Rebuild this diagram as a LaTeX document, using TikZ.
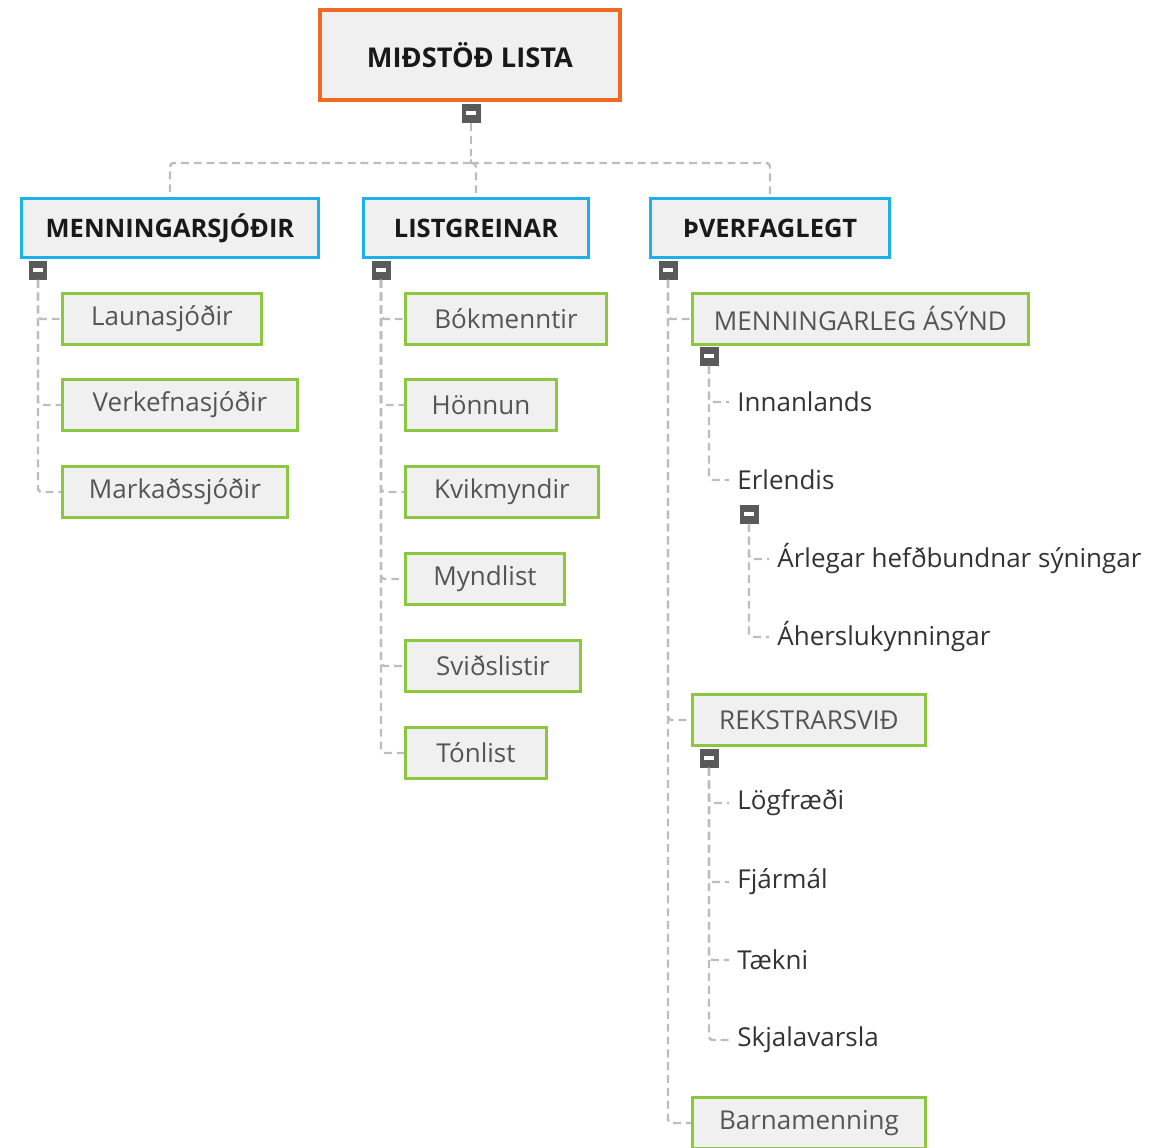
\documentclass[tikz,border=0pt]{standalone}
\usepackage{fontspec}
\setmainfont{Open Sans}
\usepackage{tikz}

\definecolor{rootline}{HTML}{F26A21}
\definecolor{topline}{HTML}{1CB0EC}
\definecolor{subline}{HTML}{8DC63F}
\definecolor{boxfill}{HTML}{F0F0F0}
\definecolor{btnfill}{HTML}{5A5A5A}
\definecolor{linkgray}{HTML}{BDBDBD}
\definecolor{subtext}{HTML}{555555}
\definecolor{leaftext}{HTML}{333333}

\begin{document}
\begin{tikzpicture}[x=0.02cm,y=-0.02cm]
      \tikzstyle{root}=[draw=rootline,line width=2.3pt,fill=boxfill,minimum width=6.0cm,minimum height=1.8cm,font=\fontsize{15.5}{18}\selectfont\bfseries,text=black!90];
      \tikzstyle{top}=[draw=topline,line width=1.7pt,fill=boxfill,minimum height=1.18cm,font=\fontsize{14.5}{17}\selectfont\bfseries,text=black!90];
      \tikzstyle{sub}=[draw=subline,line width=1.7pt,fill=boxfill,minimum height=1.02cm,anchor=west,font=\fontsize{14.8}{18}\selectfont,text=subtext];
      \tikzstyle{leaf}=[anchor=west,inner xsep=0.16cm,font=\fontsize{14.8}{18}\selectfont,text=leaftext];
      \tikzstyle{btn}=[fill=btnfill,minimum size=0.38cm,inner sep=0pt];
      \tikzstyle{link}=[draw=linkgray,line width=1.4pt,dash pattern=on 4.5pt off 2.8pt,rounded corners=2pt];
      \tikzstyle{vh}=[link,to path={|- (\tikztotarget)}];
      \tikzstyle{hv}=[link,to path={-| (\tikztotarget)}];

      \useasboundingbox (0,0) rectangle (1174,1147);

      % root
      \node[root](R) at (470,55) {MIÐSTÖÐ LISTA};
      \node[btn](b0) at (471,113) {\color{white}\rule{0.2cm}{0.07cm}};
      \coordinate (hub) at (471,163);

      % first level
      \node[top,minimum width=5.95cm](M) at (170,228) {MENNINGARSJÓÐIR};
      \node[top,minimum width=4.5cm](L) at (476,228) {LISTGREINAR};
      \node[top,minimum width=4.78cm](T) at (770,228) {ÞVERFAGLEGT};
      \node[btn](bM) at (38,270) {\color{white}\rule{0.2cm}{0.07cm}};
      \node[btn](bL) at (381,270) {\color{white}\rule{0.2cm}{0.07cm}};
      \node[btn](bT) at (668,270) {\color{white}\rule{0.2cm}{0.07cm}};

      % sjodir
      \node[sub,minimum width=3.98cm](M1) at (61,319) {Launasjóðir};
      \node[sub,minimum width=4.7cm](M2) at (61,405) {Verkefnasjóðir};
      \node[sub,minimum width=4.5cm](M3) at (61,492) {Markaðssjóðir};

      % listgreinar
      \node[sub,minimum width=4.02cm](L1) at (404,319) {Bókmenntir};
      \node[sub,minimum width=3.02cm](L2) at (404,405) {Hönnun};
      \node[sub,minimum width=3.86cm](L3) at (404,492) {Kvikmyndir};
      \node[sub,minimum width=3.18cm](L4) at (404,579) {Myndlist};
      \node[sub,minimum width=3.5cm](L5) at (404,666) {Sviðslistir};
      \node[sub,minimum width=2.82cm](L6) at (404,753) {Tónlist};

      % thverfaglegt
      \node[sub,minimum width=6.72cm](T1) at (691,319) {MENNINGARLEG ÁSÝND};
      \node[btn](bT1) at (709,356) {\color{white}\rule{0.2cm}{0.07cm}};
      \node[leaf](T11) at (729,402) {Innanlands};
      \node[leaf](T12) at (729,480) {Erlendis};
      \node[btn](bT12) at (749,514) {\color{white}\rule{0.2cm}{0.07cm}};
      \node[leaf](T121) at (769,559) {Árlegar hefðbundnar sýningar};
      \node[leaf](T122) at (769,637) {Áherslukynningar};
      \node[sub,minimum width=4.66cm](T2) at (691,720) {REKSTRARSVIÐ};
      \node[btn](bT2) at (709,758) {\color{white}\rule{0.2cm}{0.07cm}};
      \node[leaf](T21) at (729,803) {Lögfræði};
      \node[leaf](T22) at (729,882) {Fjármál};
      \node[leaf](T23) at (729,960) {Tækni};
      \node[leaf](T24) at (729,1040) {Skjalavarsla};
      \node[sub,minimum width=4.66cm](T3) at (691,1123) {Barnamenning};


      \path (b0) edge[vh] (hub);
      \path (hub) edge[hv] (M);
      \path (hub) edge[hv] (L);
      \path (hub) edge[hv] (T);

      \path (bM) edge[vh] (M3);
      \path (bM) edge[vh] (M2);
      \path (bM) edge[vh] (M1);

      \path (bL) edge[vh] (L6);
      \path (bL) edge[vh] (L5);
      \path (bL) edge[vh] (L4);
      \path (bL) edge[vh] (L3);
      \path (bL) edge[vh] (L2);
      \path (bL) edge[vh] (L1);

      \path (bT) edge[vh] (T3);
      \path (bT) edge[vh] (T2);
      \path (bT) edge[vh] (T1);
      \path (bT1) edge[vh] (T12);
      \path (bT1) edge[vh] (T11);
      \path (bT12) edge[vh] (T122);
      \path (bT12) edge[vh] (T121);
      \path (bT2) edge[vh] (T24);
      \path (bT2) edge[vh] (T23);
      \path (bT2) edge[vh] (T22);
      \path (bT2) edge[vh] (T21);

    \end{tikzpicture}
\end{document}
